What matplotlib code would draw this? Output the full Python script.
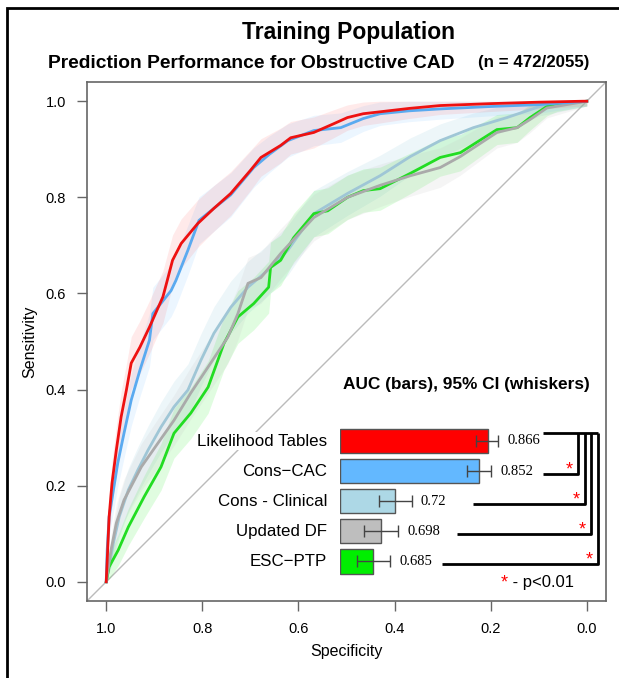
import numpy as np
import matplotlib
matplotlib.use("Agg")
import matplotlib.pyplot as plt
from matplotlib.patches import Rectangle

plt.rcParams['font.family'] = ['Liberation Sans', 'DejaVu Sans']

## ROC curves (specificity, sensitivity)
lt_spec = [1.0, 0.997, 0.994, 0.988, 0.979, 0.969, 0.958, 0.948, 0.93, 0.91, 0.882, 0.873, 0.862,
           0.844, 0.81, 0.776, 0.741, 0.70, 0.678, 0.637, 0.616, 0.568, 0.527, 0.498, 0.465, 0.43,
           0.37, 0.305, 0.20, 0.10, 0.008, 0.0]
lt_sens = [0.0, 0.066, 0.135, 0.205, 0.274, 0.343, 0.399, 0.455, 0.488, 0.53, 0.593, 0.627, 0.669,
           0.704, 0.745, 0.777, 0.808, 0.856, 0.883, 0.908, 0.924, 0.935, 0.953, 0.966, 0.974, 0.978,
           0.985, 0.991, 0.995, 0.998, 1.0, 1.0]

cac_spec = [1.0, 0.998, 0.994, 0.986, 0.976, 0.963, 0.948, 0.93, 0.91, 0.903, 0.865, 0.855, 0.83,
            0.807, 0.776, 0.741, 0.693, 0.66, 0.622, 0.568, 0.512, 0.465, 0.43, 0.37, 0.305, 0.20,
            0.098, 0.0]
cac_sens = [0.0, 0.066, 0.135, 0.185, 0.247, 0.309, 0.378, 0.44, 0.503, 0.558, 0.606, 0.627, 0.69,
            0.752, 0.777, 0.805, 0.862, 0.89, 0.918, 0.939, 0.945, 0.964, 0.974, 0.98, 0.984, 0.989,
            0.993, 1.0]

clin_spec = [1.0, 0.985, 0.973, 0.954, 0.934, 0.913, 0.886, 0.859, 0.83, 0.803, 0.776, 0.741, 0.705,
             0.664, 0.622, 0.568, 0.498, 0.43, 0.367, 0.305, 0.236, 0.166, 0.098, 0.0]
clin_sens = [0.0, 0.081, 0.135, 0.191, 0.233, 0.274, 0.322, 0.364, 0.399, 0.461, 0.517, 0.571, 0.613,
             0.648, 0.69, 0.766, 0.808, 0.845, 0.885, 0.918, 0.945, 0.966, 0.989, 1.0]

df_spec = [1.0, 0.99, 0.979, 0.963, 0.927, 0.892, 0.859, 0.824, 0.788, 0.747, 0.726, 0.705, 0.678,
           0.637, 0.568, 0.498, 0.43, 0.367, 0.305, 0.263, 0.187, 0.145, 0.118, 0.083, 0.0]
df_sens = [0.0, 0.066, 0.122, 0.17, 0.239, 0.289, 0.336, 0.393, 0.447, 0.509, 0.558, 0.621, 0.633,
           0.683, 0.758, 0.80, 0.825, 0.845, 0.862, 0.885, 0.935, 0.945, 0.962, 0.986, 1.0]

esc_spec = [1.0, 0.994, 0.975, 0.954, 0.921, 0.886, 0.859, 0.824, 0.788, 0.755, 0.726, 0.693, 0.662,
            0.658, 0.637, 0.61, 0.568, 0.539, 0.498, 0.465, 0.43, 0.367, 0.305, 0.263, 0.187, 0.145,
            0.118, 0.083, 0.062, 0.0]
esc_sens = [0.0, 0.031, 0.066, 0.114, 0.177, 0.239, 0.309, 0.351, 0.405, 0.496, 0.551, 0.579, 0.613,
            0.654, 0.669, 0.716, 0.766, 0.772, 0.80, 0.814, 0.818, 0.85, 0.883, 0.893, 0.941, 0.945,
            0.966, 0.989, 0.995, 1.0]

n_pos = 472

## AUC bars
names = ["Likelihood Tables", "Cons\u2212CAC", "Cons - Clinical", "Updated DF", "ESC\u2212PTP"]
auc = [0.866, 0.852, 0.72, 0.698, 0.685]
auc_lo = [0.847, 0.833, 0.694, 0.671, 0.660]
auc_hi = [0.882, 0.871, 0.746, 0.725, 0.712]
auc_txt = ["0.866", "0.852", "0.72", "0.698", "0.685"]
bar_colors = ["#ff0000", "#63b8ff", "#add8e6", "#bebebe", "#00ee00"]

W, H = 619, 678
fig = plt.figure(figsize=(W / 100, H / 100), dpi=100)

def fx(px):
    return px / W

def fy(py):
    return 1 - py / H

# outer frame (only left and top visible)
fig.patches.append(Rectangle((fx(6.5), fy(720)), 1.2, fy(8) - fy(720), transform=fig.transFigure,
                             fill=False, edgecolor="black", lw=2))

ax = fig.add_axes([fx(87), fy(601), fx(606) - fx(87), fy(82) - fy(601)])
ax.set_xlim(1.04, -0.04)
ax.set_ylim(-0.04, 1.04)
for s in ax.spines.values():
    s.set_color("#666666")
    s.set_linewidth(1.2)
ax.tick_params(colors="#666666", labelcolor="black", length=7, width=1, labelsize=10.5, pad=8)
ax.set_xticks([1.0, 0.8, 0.6, 0.4, 0.2, 0.0])
ax.set_yticks([0.0, 0.2, 0.4, 0.6, 0.8, 1.0])
ax.set_xticklabels(["1.0", "0.8", "0.6", "0.4", "0.2", "0.0"])
ax.set_yticklabels(["0.0", "0.2", "0.4", "0.6", "0.8", "1.0"])
ax.set_xlabel("Specificity", fontsize=11.5, labelpad=6)
ax.set_ylabel("Sensitivity", fontsize=11.5, labelpad=6)

ax.axline((1, 0), (0, 1), color="#bbbbbb", lw=1, zorder=1)

curves = [
    (clin_spec, clin_sens, "#9fc6d6", "#add8e6", 0.22),
    (esc_spec, esc_sens, "#22dd22", "#00ee00", 0.12),
    (df_spec, df_sens, "#aaaaaa", "#bebebe", 0.15),
    (cac_spec, cac_sens, "#5aaaf0", "#63b8ff", 0.12),
    (lt_spec, lt_sens, "#ee1111", "#ff4444", 0.11),
]
for sp, se, lc, bc, a in curves:
    sp = np.array(sp)
    se = np.array(se)
    half = 1.96 * np.sqrt(se * (1 - se) / n_pos) + 0.01
    ax.fill_between(sp, np.clip(se - half, 0, 1), np.clip(se + half, 0, 1), color=bc, alpha=a, lw=0, zorder=2)
for sp, se, lc, bc, a in curves:
    ax.plot(sp, se, color=lc, lw=2, zorder=3)

## bar inset
x0 = 0.633
px_per_unit = 635
row_px = 30.1
bx = fig.add_axes([fx(340), fy(590), fx(606) - fx(340), fy(420) - fy(590)])
bx.set_xlim(x0, x0 + (606 - 340) / px_per_unit)
bx.set_ylim((590 - 441) / row_px, (420 - 441) / row_px)
bx.axis("off")
bx.patch.set_alpha(0)

rows = np.arange(len(names))
bx.barh(rows, np.array(auc) - x0, left=x0, height=0.81, color=bar_colors, edgecolor="#555555", lw=1)
bx.errorbar(auc, rows, xerr=[np.array(auc) - np.array(auc_lo), np.array(auc_hi) - np.array(auc)],
            fmt="none", ecolor="#444444", elinewidth=1, capsize=4.5, capthick=1)
for i in rows:
    bx.text(auc_hi[i] + 9 / px_per_unit, i, auc_txt[i], va="center", ha="left",
            family="Liberation Serif", fontsize=10.5)
    bx.text(x0 - 13 / px_per_unit, i, names[i], va="center", ha="right", fontsize=12.2,
            bbox=dict(facecolor="white", edgecolor="none", pad=1), clip_on=False)

# significance brackets: Likelihood Tables vs each other model
top_y = -0.27
vert_px = [578, 585, 591, 598]
start_px = [543, 473, 457, 442]
bx.plot([x0 + (543 - 340) / px_per_unit, x0 + (598 - 340) / px_per_unit], [top_y, top_y],
        color="black", lw=2, solid_capstyle="butt")
for k, i in enumerate(rows[1:]):
    vx = x0 + (vert_px[k] - 340) / px_per_unit
    sx = x0 + (start_px[k] - 340) / px_per_unit
    ly = i + 0.08
    bx.plot([sx, vx, vx], [ly, ly, top_y], color="black", lw=2, solid_capstyle="butt")
    bx.text(vx - 9 / px_per_unit, ly - 0.12, "*", color="red", ha="center", va="center", fontsize=13)

bx.text(x0 + (504 - 340) / px_per_unit, (583 - 441) / row_px, "*", color="red", ha="center", va="center",
        fontsize=13)
bx.text(x0 + (508 - 340) / px_per_unit, (583 - 441) / row_px, " - p<0.01", ha="left", va="center",
        fontsize=12)

fig.text(fx(466), fy(385), "AUC (bars), 95% CI (whiskers)", ha="center", va="center",
         fontsize=12.4, fontweight="bold")

## titles
fig.text(fx(348), fy(33), "Training Population", ha="center", va="center", fontsize=16.5, fontweight="bold")
fig.text(fx(48), fy(63), "Prediction Performance for Obstructive CAD", ha="left", va="center",
         fontsize=13.9, fontweight="bold")
fig.text(fx(589), fy(63), "(n = 472/2055)", ha="right", va="center", fontsize=12.2, fontweight="bold")

fig.savefig("out.png", dpi=100)
